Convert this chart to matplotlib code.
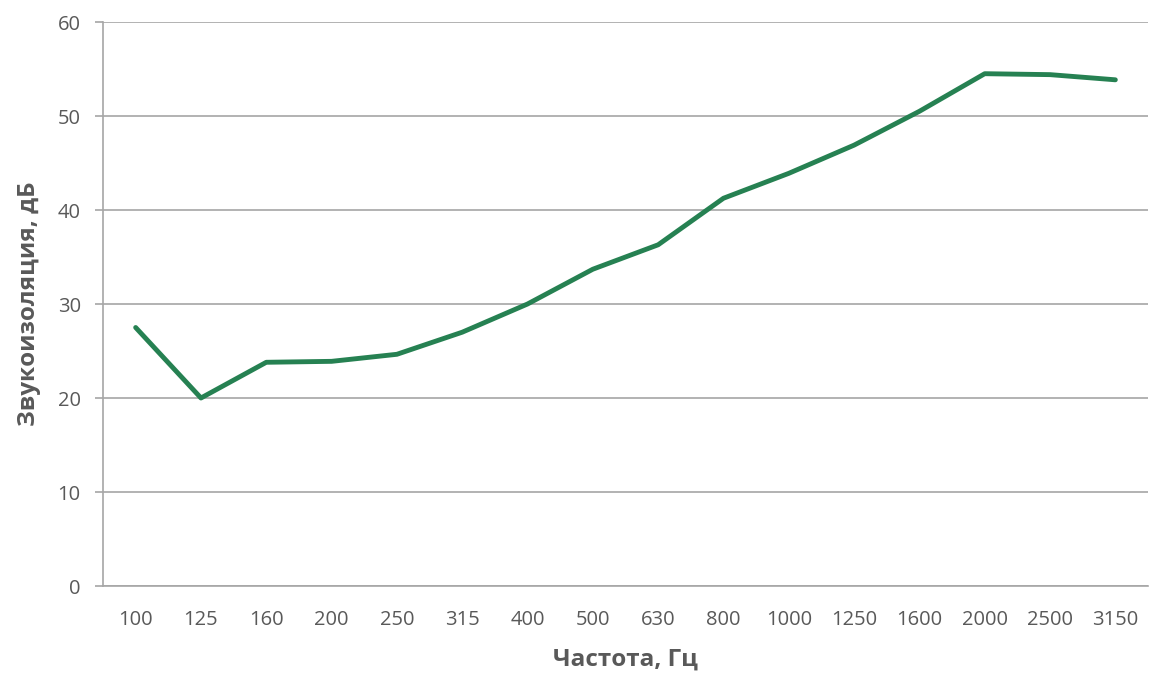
import matplotlib
matplotlib.use("Agg")
import matplotlib.pyplot as plt

# Sound insulation vs. frequency
frequencies = ["100", "125", "160", "200", "250", "315", "400", "500", "630",
               "800", "1000", "1250", "1600", "2000", "2500", "3150"]
insulation_db = [27.5, 20.0, 23.8, 23.9, 24.65, 27.0, 30.0, 33.7, 36.3,
                 41.25, 43.9, 46.9, 50.5, 54.5, 54.4, 53.85]
y_ticks = [0, 10, 20, 30, 40, 50, 60]

plt.rcParams['font.family'] = ['Open Sans', 'DejaVu Sans']

fig = plt.figure(figsize=(11.51, 6.78), dpi=100)
ax = fig.add_axes([103 / 1151, 92 / 678, (1148 - 103) / 1151, (586 - 22) / 678])

x = range(len(frequencies))
ax.plot(x, insulation_db, color="#268152", linewidth=3.5, solid_capstyle="round",
        solid_joinstyle="round", zorder=3)

ax.set_xlim(-0.5, len(frequencies) - 0.5)
ax.set_ylim(0, 60)
ax.set_yticks(y_ticks)
ax.set_xticks(list(x))
ax.set_xticklabels(frequencies)

grid_color = "#a6a6a6"
ax.yaxis.grid(True, color=grid_color, linewidth=1.2)
ax.set_axisbelow(True)
for side in ("top", "right"):
    ax.spines[side].set_visible(False)
for side in ("left", "bottom"):
    ax.spines[side].set_color(grid_color)
    ax.spines[side].set_linewidth(1.2)

ax.tick_params(axis="y", length=6, width=1.2, color=grid_color, pad=10,
               labelsize=14.5, labelcolor="#595959")
ax.tick_params(axis="x", length=0, pad=17, labelsize=14.5, labelcolor="#595959")

ax.set_xlabel("Частота, Гц", fontsize=17.5, fontweight="bold", color="#595959", labelpad=13)
ax.set_ylabel("Звукоизоляция, дБ", fontsize=17.5, fontweight="bold", color="#595959", labelpad=12)

fig.savefig("out.png", dpi=100)
